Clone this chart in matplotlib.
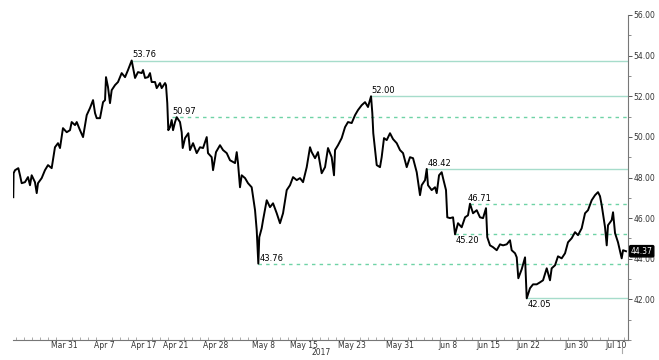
import matplotlib
matplotlib.use("Agg")
import matplotlib.pyplot as plt
from matplotlib.ticker import FixedLocator, MultipleLocator, FormatStrFormatter

# trading-day offset (0 = Mar 31) and price
t = [-6.34, -6.3, -6.12, -5.71, -5.5, -5.29, -4.88, -4.5, -4.25, -4.04, -3.63, -3.41, -3.25, -2.79,
     -2.38, -2.0, -1.54, -1.13, -0.75, -0.5, -0.13, 0.34, 0.75, 0.96, 1.38, 1.59, 2.0, 2.38, 2.84,
     3.25, 3.63, 3.88, 4.09, 4.5, 4.88, 5.13, 5.25, 5.5, 5.75, 5.96, 6.38, 6.75, 7.21, 7.63, 8.0,
     8.46, 8.88, 9.25, 9.71, 9.88, 10.13, 10.5, 10.75, 10.96, 11.38, 11.59, 12.0, 12.21, 12.63,
     12.75, 12.91, 13.04, 13.25, 13.46, 13.63, 13.88, 14.09, 14.5, 14.71, 14.84, 15.13, 15.54,
     15.75, 16.13, 16.59, 17.0, 17.38, 17.84, 18.0, 18.46, 18.63, 19.0, 19.5, 19.88, 20.34, 20.75,
     21.38, 21.59, 21.75, 22.0, 22.21, 22.63, 23.0, 23.46, 23.88, 24.09, 24.29, 24.41, 24.71,
     24.88, 25.34, 25.75, 26.13, 26.59, 27.0, 27.38, 27.84, 28.25, 28.63, 29.09, 29.5, 29.88,
     30.34, 30.75, 30.96, 31.38, 31.75, 32.21, 32.63, 33.0, 33.46, 33.75, 33.88, 34.25, 34.71,
     35.13, 35.5, 35.96, 36.38, 36.75, 37.21, 37.63, 38.0, 38.38, 38.54, 38.66, 39.09, 39.5,
     39.71, 40.0, 40.34, 40.75, 41.13, 41.59, 42.0, 42.38, 42.84, 43.25, 43.63, 44.09, 44.5,
     44.71, 45.13, 45.34, 45.5, 45.96, 46.38, 46.59, 46.88, 47.21, 47.38, 47.75, 47.91, 48.25,
     48.63, 48.88, 49.25, 49.71, 50.13, 50.5, 50.75, 51.13, 51.59, 52.0, 52.38, 52.75, 52.91,
     53.25, 53.63, 54.09, 54.5, 54.88, 55.34, 55.75, 55.96, 56.38, 56.59, 56.79, 57.21, 57.63,
     57.84, 58.25, 58.63, 59.09, 59.5, 59.88, 60.34, 60.75, 60.96, 61.38, 61.75, 62.21, 62.63,
     63.0, 63.46, 63.88, 64.25, 64.71, 65.13, 65.5, 65.96, 66.38, 66.75, 67.0, 67.21, 67.63,
     67.84, 68.0, 68.46, 68.63, 68.88, 69.25, 69.71, 69.88, 70.25]
price = [47.03, 48.21, 48.36, 48.46, 48.11, 47.72, 47.77, 48.02, 47.62, 48.11, 47.77, 47.23, 47.72,
         47.97, 48.36, 48.61, 48.46, 49.49, 49.69, 49.45, 50.43, 50.23, 50.33, 50.73, 50.58, 50.73,
         50.33, 49.99, 51.07, 51.42, 51.81, 51.17, 50.92, 50.92, 51.71, 51.81, 52.94, 52.45, 51.66,
         52.30, 52.55, 52.70, 53.14, 52.94, 53.29, 53.76, 52.90, 53.19, 53.14, 53.29, 52.90, 52.94,
         53.14, 52.70, 52.70, 52.40, 52.65, 52.40, 52.65, 52.55, 51.66, 50.33, 50.48, 50.83, 50.33,
         50.73, 50.97, 50.73, 50.23, 49.45, 49.94, 50.18, 49.35, 49.69, 49.20, 49.49, 49.45, 49.99,
         49.20, 49.00, 48.36, 49.25, 49.59, 49.35, 49.20, 48.85, 48.71, 49.25, 48.71, 47.52, 48.11,
         47.97, 47.72, 47.52, 46.39, 45.40, 43.76, 45.06, 45.50, 45.90, 46.88, 46.54, 46.73, 46.24,
         45.75, 46.24, 47.38, 47.62, 48.02, 47.87, 47.97, 47.77, 48.51, 49.49, 49.25, 48.95, 49.25,
         48.21, 48.51, 49.45, 49.00, 48.11, 49.35, 49.59, 49.94, 50.48, 50.73, 50.68, 51.07, 51.32,
         51.56, 51.71, 51.47, 52.00, 51.17, 50.18, 48.61, 48.51, 49.00, 49.94, 49.84, 50.18, 49.89,
         49.69, 49.35, 49.20, 48.51, 49.00, 48.95, 48.26, 47.13, 47.62, 47.87, 48.42, 47.62, 47.38,
         47.52, 47.23, 48.11, 48.26, 47.97, 47.38, 46.04, 46.00, 46.04, 45.20, 45.75, 45.55, 46.04,
         46.14, 46.71, 46.24, 46.39, 46.04, 46.00, 46.49, 45.06, 44.66, 44.57, 44.42, 44.71, 44.66,
         44.71, 44.91, 44.42, 44.27, 44.07, 43.04, 43.48, 44.07, 42.05, 42.55, 42.74, 42.74, 42.84,
         42.94, 43.53, 42.94, 43.53, 43.68, 44.12, 44.02, 44.27, 44.81, 45.01, 45.31, 45.16, 45.50,
         46.24, 46.39, 46.88, 47.13, 47.28, 47.08, 46.64, 45.55, 44.66, 45.65, 45.90, 46.29, 45.26,
         44.81, 44.02, 44.42, 44.37]

tick_labels = ["Mar 31", "Apr 7", "Apr 17", "Apr 21", "Apr 28", "May 8", "May 15", "May 23",
               "May 31", "Jun 8", "Jun 15", "Jun 22", "Jun 30", "Jul 10"]
tick_days = [0, 5, 10, 14, 19, 25, 30, 36, 42, 48, 53, 58, 64, 69]

solid_levels = [53.76, 52.00, 48.42, 42.05]
solid_starts = [8.46, 38.38, 45.34, 57.84]
dashed_levels = [50.97, 46.71, 45.20, 43.76]
dashed_starts = [13.5, 50.75, 48.88, 24.29]
last_price = 44.37

fig = plt.figure(figsize=(6.59, 3.60), dpi=100)
ax = fig.add_axes([13 / 659, 20 / 360, 615 / 659, 325 / 360])

x0, x1 = -6.375, 70.5
ax.set_xlim(x0, x1)
ax.set_ylim(40, 56)

solid_col = "#a6dccb"
dash_col = "#6fd3a6"
for v, s in zip(solid_levels, solid_starts):
    ax.plot([s, x1], [v, v], color=solid_col, lw=1.0, zorder=1)
for v, s in zip(dashed_levels, dashed_starts):
    ax.plot([s, x1], [v, v], color=dash_col, lw=1.0, ls=(0, (2.5, 3)), zorder=1)

ax.plot(t, price, color="black", lw=1.4, zorder=3)

fs = 6
ax.text(solid_starts[0] + 0.1, solid_levels[0] + 0.05, "53.76", fontsize=fs, va="bottom", ha="left")
ax.text(solid_starts[1] + 0.1, solid_levels[1] + 0.05, "52.00", fontsize=fs, va="bottom", ha="left")
ax.text(solid_starts[2] + 0.1, solid_levels[2] + 0.05, "48.42", fontsize=fs, va="bottom", ha="left")
ax.text(solid_starts[3] + 0.1, solid_levels[3] - 0.08, "42.05", fontsize=fs, va="top", ha="left")
ax.text(dashed_starts[0] + 0.1, dashed_levels[0] + 0.05, "50.97", fontsize=fs, va="bottom", ha="left")
ax.text(dashed_starts[1] - 0.3, dashed_levels[1] + 0.05, "46.71", fontsize=fs, va="bottom", ha="left")
ax.text(dashed_starts[2] + 0.1, dashed_levels[2] - 0.08, "45.20", fontsize=fs, va="top", ha="left")
ax.text(dashed_starts[3] + 0.15, dashed_levels[3] + 0.03, "43.76", fontsize=fs, va="bottom", ha="left")

for side in ["left", "top"]:
    ax.spines[side].set_visible(False)
ax.spines["right"].set_color("#777777")
ax.spines["bottom"].set_color("#777777")
ax.spines["right"].set_linewidth(0.8)
ax.spines["bottom"].set_linewidth(0.8)

ax.yaxis.tick_right()
ax.set_yticks([56, 54, 52, 50, 48, 46, 44, 42])
ax.yaxis.set_minor_locator(MultipleLocator(1))
ax.yaxis.set_major_formatter(FormatStrFormatter("%.2f"))
ax.tick_params(axis="y", which="major", length=3, width=0.7, color="#555555",
               labelsize=5.5, labelcolor="#333333", pad=1)
ax.tick_params(axis="y", which="minor", length=2, width=0.6, color="#777777")

ax.xaxis.set_major_locator(FixedLocator(tick_days))
ax.set_xticklabels(tick_labels)
ax.xaxis.set_minor_locator(MultipleLocator(1))
ax.tick_params(axis="x", which="major", length=0, labelsize=5.5, labelcolor="#333333", pad=0.5)
ax.tick_params(axis="x", which="minor", length=2, width=0.5, color="#888888", direction="in")

ax.text(32.2, -0.025, "2017", transform=ax.get_xaxis_transform(), fontsize=5.5, color="#333333",
        ha="center", va="top")

# small current-time marker below the axis
ax.plot([69.8, 69.8], [-0.02, -0.04], transform=ax.get_xaxis_transform(), color="#aaaaaa",
        lw=0.8, clip_on=False)

ax.text(x1 + 0.35, last_price, "44.37", fontsize=5.5, color="white", va="center", ha="left",
        bbox=dict(boxstyle="round,pad=0.15", fc="black", ec="black"), zorder=5, clip_on=False)

fig.savefig("out.png", dpi=100)
